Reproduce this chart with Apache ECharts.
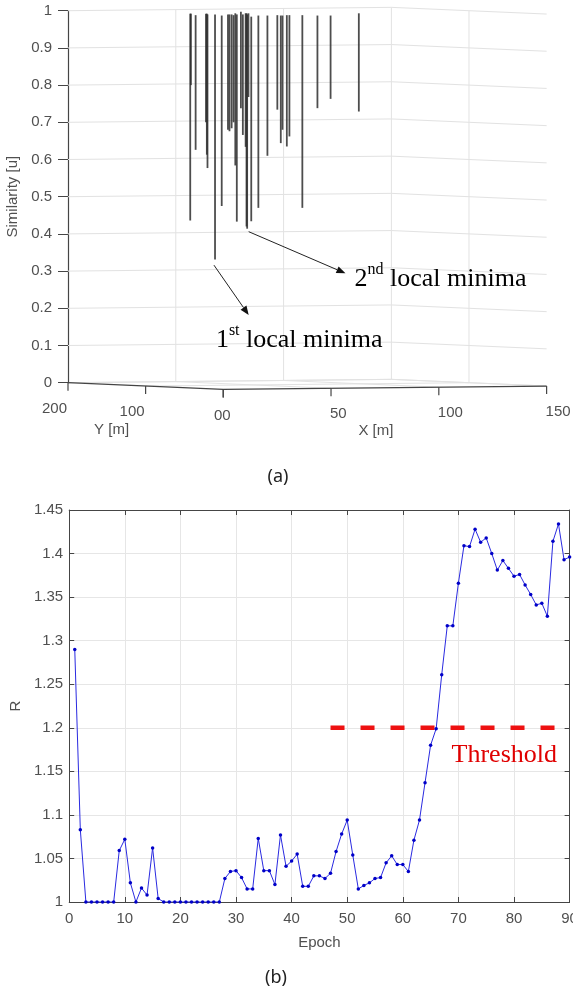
<!DOCTYPE html>
<html><head><meta charset="utf-8">
<script src="https://cdn.jsdelivr.net/npm/echarts@6/dist/echarts.min.js"></script>
<style>html,body{margin:0;padding:0;background:#fff}#c{width:573px;height:994px}</style>
</head><body><div id="c"></div>
<script>
// ================= Panel (a) data =================
// similarity tick values (vertical axis)
const simTicks = [0, 0.1, 0.2, 0.3, 0.4, 0.5, 0.6, 0.7, 0.8, 0.9, 1];
// floor axis ticks (metres)
const floorXTicks = [0, 50, 100, 150];
const floorXLabels = ['0', '50', '100', '150'];
const floorYTicks = [0, 100, 200];
const floorYLabels = ['0', '100', '200'];
// stems: projected horizontal position (in X [m] units along the front axis), top & bottom similarity
const stemPos = [-15.3, -15.0, -12.8, -8.0, -7.6, -7.3, -3.8, -0.7, 2.2, 2.9, 3.9, 4.8, 5.6, 6.3,
  8.2, 9.1, 10.4, 10.8, 11.1, 11.7, 13.0, 16.3, 20.5, 25.1, 26.7, 27.5, 29.5, 30.7, 36.7, 43.7, 49.8, 62.9];
const stemTop = [0.992, 0.992, 0.988, 0.992, 0.992, 0.990, 0.990, 0.987, 0.990, 0.990, 0.990, 0.988, 0.993, 0.990,
  0.997, 0.990, 0.993, 0.993, 0.990, 0.993, 0.984, 0.987, 0.987, 0.988, 0.987, 0.987, 0.988, 0.988, 0.988, 0.987, 0.987, 0.993];
const stemBottom = [0.436, 0.800, 0.626, 0.700, 0.613, 0.577, 0.331, 0.475, 0.680, 0.676, 0.684, 0.700, 0.584, 0.433,
  0.738, 0.666, 0.634, 0.420, 0.414, 0.768, 0.434, 0.470, 0.610, 0.734, 0.644, 0.680, 0.635, 0.662, 0.470, 0.738, 0.763, 0.729];
// annotations (data coordinates of panel a)
const annFrom = [[11.8, 0.406], [-4.3, 0.316]];
const annTo = [[56.7, 0.294], [11.8, 0.182]];
const annTextAt = [[60.9, 0.284], [-3.4, 0.120]];
const annOrdinal = ['2', '1'];
const annSup = ['nd', 'st'];
const annText = [' local minima', ' local minima'];

// ================= Panel (b) data =================
const epochs = [1,2,3,4,5,6,7,8,9,10,11,12,13,14,15,16,17,18,19,20,21,22,23,24,25,26,27,28,29,30,
  31,32,33,34,35,36,37,38,39,40,41,42,43,44,45,46,47,48,49,50,51,52,53,54,55,56,57,58,59,60,
  61,62,63,64,65,66,67,68,69,70,71,72,73,74,75,76,77,78,79,80,81,82,83,84,85,86,87,88,89,90];
const rValues = [1.290,1.083,1.000,1.000,1.000,1.000,1.000,1.000,1.059,1.072,
  1.022,1.000,1.016,1.008,1.062,1.004,1.000,1.000,1.000,1.000,
  1.000,1.000,1.000,1.000,1.000,1.000,1.000,1.027,1.035,1.036,
  1.028,1.015,1.015,1.073,1.036,1.036,1.020,1.077,1.041,1.047,
  1.055,1.018,1.018,1.030,1.030,1.027,1.033,1.058,1.078,1.094,
  1.054,1.015,1.019,1.022,1.027,1.028,1.045,1.053,1.043,1.043,
  1.035,1.071,1.094,1.137,1.180,1.199,1.261,1.317,1.317,1.366,
  1.409,1.408,1.428,1.413,1.418,1.400,1.381,1.392,1.383,1.374,
  1.376,1.364,1.353,1.341,1.343,1.328,1.414,1.434,1.393,1.396];
const thresholdValue = 1.2;
const thresholdFrom = 47;
const thresholdTo = 88;

// ================= rendering =================
const SANS = 'Liberation Sans';
const SERIF = 'Liberation Serif';
const LABEL = '#505050';
const AXIS = '#454545';

// oblique projection of (X, Y, similarity) onto panel (a)'s 2-D axes
function proj(X, Y, s) {
  return [X - 0.36 * Y, s - 0.018 + 0.00006 * X + 0.00009 * Y];
}

function frameRender(params, api) {
  const P = (X, Y, s) => api.coord(proj(X, Y, s));
  const ch = [];
  const grid = { stroke: '#e2e2e2', lineWidth: 1, fill: null };
  const line = (a, b, st) => ch.push({ type: 'line', shape: { x1: a[0], y1: a[1], x2: b[0], y2: b[1] }, style: st });
  // back wall horizontal grid lines
  simTicks.forEach(s => ch.push({ type: 'polyline', shape: { points: [P(0, 200, s), P(150, 200, s), P(150, 0, s)] }, style: grid }));
  // back wall vertical grid lines
  floorXTicks.slice(1).forEach(X => line(P(X, 200, 0), P(X, 200, 1), grid));
  floorYTicks.slice(1, -1).forEach(Y => line(P(150, Y, 0), P(150, Y, 1), grid));
  // floor grid
  floorXTicks.slice(1).forEach(X => line(P(X, 0, 0), P(X, 200, 0), grid));
  floorYTicks.slice(1).forEach(Y => line(P(0, Y, 0), P(150, Y, 0), grid));
  // front floor axes
  const ax = { stroke: AXIS, lineWidth: 1.2, fill: null };
  ch.push({ type: 'polyline', shape: { points: [P(0, 200, 0), P(0, 0, 0), P(150, 0, 0)] }, style: ax });
  floorXTicks.forEach((X, i) => {
    const p = P(X, 0, 0);
    line(p, [p[0], p[1] + 8], ax);
    ch.push({ type: 'text', x: p[0] - 1, y: p[1] + 26, style: { text: floorXLabels[i], fill: LABEL, font: '15px ' + SANS, align: 'left', verticalAlign: 'middle' } });
  });
  floorYTicks.forEach((Y, i) => {
    const p = P(0, Y, 0);
    line(p, [p[0], p[1] + 8], ax);
    ch.push({ type: 'text', x: p[0] - 1, y: p[1] + 26, style: { text: floorYLabels[i], fill: LABEL, font: '15px ' + SANS, align: 'right', verticalAlign: 'middle' } });
  });
  const yt = P(0, 100, 0);
  ch.push({ type: 'text', x: yt[0] - 34, y: yt[1] + 44, style: { text: 'Y [m]', fill: LABEL, font: '15px ' + SANS, align: 'center', verticalAlign: 'middle' } });
  const xt = P(75, 0, 0);
  ch.push({ type: 'text', x: xt[0] - 9, y: xt[1] + 43, style: { text: 'X [m]', fill: LABEL, font: '15px ' + SANS, align: 'center', verticalAlign: 'middle' } });
  return { type: 'group', children: ch };
}

function stemRender(params, api) {
  const a = api.coord([api.value(0), api.value(1)]);
  const b = api.coord([api.value(0), api.value(2)]);
  return { type: 'line', shape: { x1: a[0], y1: a[1], x2: b[0], y2: b[1] },
    style: { stroke: '#2e2e2e', lineWidth: 1.8, opacity: 0.85 } };
}

function annRender(params, api) {
  const i = params.dataIndex;
  const p0 = api.coord(annFrom[i]);
  const p1 = api.coord(annTo[i]);
  const dx = p1[0] - p0[0], dy = p1[1] - p0[1];
  const L = Math.sqrt(dx * dx + dy * dy);
  const ux = dx / L, uy = dy / L, nx = -uy, ny = ux;
  const hl = 9, hw = 3.6;
  const base = [p1[0] - ux * hl, p1[1] - uy * hl];
  const t = api.coord(annTextAt[i]);
  return { type: 'group', children: [
    { type: 'line', shape: { x1: p0[0], y1: p0[1], x2: base[0], y2: base[1] }, style: { stroke: '#222', lineWidth: 1 } },
    { type: 'polygon', shape: { points: [p1, [base[0] + nx * hw, base[1] + ny * hw], [base[0] - nx * hw, base[1] - ny * hw]] }, style: { fill: '#111' } },
    { type: 'text', x: t[0], y: t[1], style: {
      text: '{n|' + annOrdinal[i] + '}{s|' + annSup[i] + '}{n|' + annText[i] + '}',
      align: 'left', verticalAlign: 'middle',
      rich: {
        n: { fontSize: 26, fontFamily: SERIF, color: '#111', lineHeight: 30, verticalAlign: 'bottom' },
        s: { fontSize: 16, fontFamily: SERIF, color: '#111', lineHeight: 20, verticalAlign: 'top' }
      } } }
  ] };
}

const chart = echarts.init(document.getElementById('c'), null, { renderer: 'canvas' });
chart.setOption({
  animation: false,
  backgroundColor: '#fff',
  textStyle: { fontFamily: SANS },
  graphic: [
    { type: 'text', x: 278, y: 477, style: { text: '(a)', font: '18px "Noto Sans"', fill: '#222', align: 'center', verticalAlign: 'middle' } },
    { type: 'text', x: 276, y: 978, style: { text: '(b)', font: '18px "Noto Sans"', fill: '#222', align: 'center', verticalAlign: 'middle' } }
  ],
  grid: [
    { left: 68, right: 21, top: 10.7, bottom: 611.3, outerBoundsMode: 'none', containLabel: false },
    { left: 69.2, right: 3.4, top: 510, bottom: 92, outerBoundsMode: 'none', containLabel: false }
  ],
  xAxis: [
    { gridIndex: 0, type: 'value', min: -72, max: 152.5, show: false },
    { gridIndex: 1, type: 'value', min: 0, max: 90, interval: 10, name: 'Epoch', nameLocation: 'middle', nameGap: 33,
      nameTextStyle: { fontSize: 15, color: LABEL },
      axisLine: { show: true, onZero: false, lineStyle: { color: AXIS } },
      axisTick: { inside: true, length: 5, lineStyle: { color: AXIS } },
      axisLabel: { fontSize: 15, color: LABEL, margin: 9, hideOverlap: false },
      splitLine: { show: true, lineStyle: { color: '#e6e6e6' } } },
    { gridIndex: 1, type: 'value', position: 'top', min: 0, max: 90, interval: 10,
      axisLine: { show: true, onZero: false, lineStyle: { color: AXIS } },
      axisTick: { inside: true, length: 5, lineStyle: { color: AXIS } },
      axisLabel: { show: false }, splitLine: { show: false } }
  ],
  yAxis: [
    { gridIndex: 0, type: 'value', min: 0, max: 1, interval: 0.1, name: 'Similarity [u]', nameLocation: 'middle', nameGap: 47,
      nameTextStyle: { fontSize: 15, color: LABEL },
      axisLine: { show: true, onZero: false, lineStyle: { color: AXIS, width: 1.2 } },
      axisTick: { show: true, length: 10, lineStyle: { color: AXIS } },
      axisLabel: { fontSize: 15, color: LABEL, margin: 16 },
      splitLine: { show: false } },
    { gridIndex: 1, type: 'value', min: 1, max: 1.45, interval: 0.05, name: 'R', nameLocation: 'middle', nameGap: 42,
      nameTextStyle: { fontSize: 15, color: LABEL },
      axisLine: { show: true, onZero: false, lineStyle: { color: AXIS } },
      axisTick: { show: true, inside: true, length: 5, lineStyle: { color: AXIS } },
      axisLabel: { fontSize: 15, color: LABEL, margin: 6 },
      splitLine: { show: true, lineStyle: { color: '#e6e6e6' } } },
    { gridIndex: 1, type: 'value', position: 'right', min: 1, max: 1.45, interval: 0.05,
      axisLine: { show: true, onZero: false, lineStyle: { color: AXIS } },
      axisTick: { show: true, inside: true, length: 5, lineStyle: { color: AXIS } },
      axisLabel: { show: false }, splitLine: { show: false } }
  ],
  series: [
    { type: 'custom', name: 'frame', xAxisIndex: 0, yAxisIndex: 0, clip: false, z: 1, silent: true,
      data: [[0, 0]], renderItem: frameRender },
    { type: 'custom', name: 'similarity', xAxisIndex: 0, yAxisIndex: 0, clip: false, z: 3,
      data: stemPos.map((p, i) => [p, stemTop[i], stemBottom[i]]), encode: { x: 0, y: [1, 2] },
      renderItem: stemRender },
    { type: 'custom', name: 'annotations', xAxisIndex: 0, yAxisIndex: 0, clip: false, z: 4,
      data: annFrom.map(f => [f[0], f[1]]), renderItem: annRender },
    { type: 'line', name: 'R', xAxisIndex: 1, yAxisIndex: 1, z: 3,
      data: epochs.map((e, i) => [e, rValues[i]]),
      symbol: 'circle', symbolSize: 3.5, showSymbol: true,
      itemStyle: { color: '#0000c8' }, lineStyle: { color: '#2a2ae0', width: 1 } },
    { type: 'line', name: 'Threshold', xAxisIndex: 1, yAxisIndex: 1, z: 2, symbol: 'none',
      data: [[thresholdFrom, thresholdValue], [thresholdTo, thresholdValue]],
      lineStyle: { color: '#ee1111', width: 4.5, type: [14, 16], cap: 'butt' },
      markPoint: { symbol: 'rect', symbolSize: 1, itemStyle: { color: 'rgba(0,0,0,0)' },
        data: [{ coord: [thresholdTo, thresholdValue], label: { show: true, formatter: 'Threshold', position: 'insideRight',
          fontFamily: SERIF, fontSize: 26, color: '#e00000', align: 'right', verticalAlign: 'middle', offset: [3, 27] } }] } }
  ]
});
</script></body></html>
